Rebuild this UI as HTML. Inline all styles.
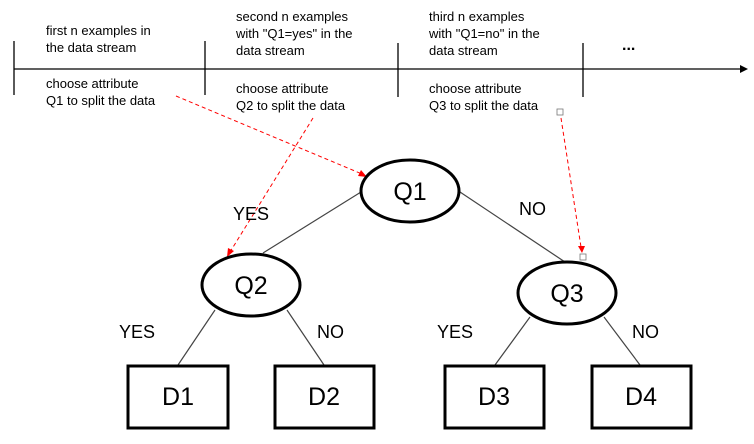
<!DOCTYPE html>
<html><head><style>
html,body{margin:0;padding:0;background:#fff;overflow:hidden;}
svg{display:block;}
svg text{font-family:"Liberation Sans",Arial,sans-serif;}
</style></head><body>
<svg width="754" height="444" viewBox="0 0 754 444" xmlns="http://www.w3.org/2000/svg">
<rect width="754" height="444" fill="#fff"/>
<line x1="14" y1="69" x2="742" y2="69" stroke="#000" stroke-width="1.3"/>
<polygon points="748,69 740,65 740,73" fill="#000"/>
<g stroke="#000" stroke-width="1.3">
<line x1="14" y1="41" x2="14" y2="95"/>
<line x1="205" y1="41" x2="205" y2="95"/>
<line x1="398" y1="43" x2="398" y2="97"/>
<line x1="583" y1="43" x2="583" y2="97"/>
</g>
<g font-size="13" fill="#000">
<text x="46" y="35">first n examples in</text>
<text x="46" y="52">the data stream</text>
<text x="236" y="21">second n examples</text>
<text x="236" y="38">with "Q1=yes" in the</text>
<text x="236" y="55">data stream</text>
<text x="429" y="21">third n examples</text>
<text x="429" y="38">with "Q1=no" in the</text>
<text x="429" y="55">data stream</text>
<text x="622" y="50" font-weight="bold" font-size="16">...</text>
<text x="46" y="88">choose attribute</text>
<text x="46" y="105">Q1 to split the data</text>
<text x="236" y="93">choose attribute</text>
<text x="236" y="110">Q2 to split the data</text>
<text x="429" y="93">choose attribute</text>
<text x="429" y="110">Q3 to split the data</text>
</g>
<g stroke="#f00" stroke-width="1" stroke-dasharray="4,3" fill="none">
<line x1="176" y1="96" x2="362" y2="174"/>
<line x1="313" y1="118" x2="230" y2="252"/>
<line x1="561" y1="118" x2="581" y2="247"/>
</g>
<polygon points="367,177 358,176 361,170" fill="#f00"/>
<polygon points="227,257 228,248 234,251" fill="#f00"/>
<polygon points="582,253 578,246 585,246" fill="#f00"/>
<rect x="557" y="109" width="6" height="6" fill="#fff" stroke="#777" stroke-width="0.8"/>
<rect x="580" y="254" width="6" height="6" fill="#fff" stroke="#777" stroke-width="0.8"/>
<g stroke="#444" stroke-width="1.2">
<line x1="361" y1="192" x2="263" y2="253"/>
<line x1="460" y1="192" x2="565" y2="262"/>
<line x1="215" y1="310" x2="178" y2="365"/>
<line x1="287" y1="310" x2="324" y2="365"/>
<line x1="530" y1="317" x2="495" y2="365"/>
<line x1="604" y1="317" x2="640" y2="365"/>
</g>
<g stroke="#000" stroke-width="3" fill="#fff">
<ellipse cx="410" cy="191" rx="49" ry="31"/>
<ellipse cx="251" cy="285" rx="49" ry="31"/>
<ellipse cx="567" cy="293" rx="49" ry="31"/>
<rect x="128" y="366" width="100" height="62"/>
<rect x="275" y="366" width="99" height="62"/>
<rect x="445" y="366" width="99" height="62"/>
<rect x="592" y="366" width="99" height="62"/>
</g>
<g font-size="25" text-anchor="middle" fill="#000">
<text x="410" y="200">Q1</text>
<text x="251" y="294">Q2</text>
<text x="567" y="302">Q3</text>
<text x="178" y="405">D1</text>
<text x="324" y="405">D2</text>
<text x="494" y="405">D3</text>
<text x="641" y="405">D4</text>
</g>
<g font-size="18" fill="#000">
<text x="233" y="220">YES</text>
<text x="519" y="215">NO</text>
<text x="119" y="338">YES</text>
<text x="317" y="338">NO</text>
<text x="437" y="338">YES</text>
<text x="632" y="338">NO</text>
</g>
</svg>
</body></html>
